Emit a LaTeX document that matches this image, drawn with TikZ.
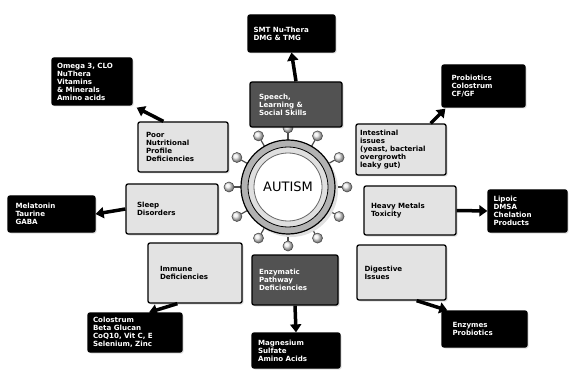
\documentclass[tikz,border=0pt]{standalone}
\usepackage{fontspec}
\setmainfont{DejaVu Sans}
\usetikzlibrary{arrows.meta,shapes,positioning,shadows,calc}

\begin{document}
\begin{tikzpicture}[x=1pt,y=-1pt,
	box/.style={rounded corners=2pt, line width=1.3pt, draw=black, align=left,
		inner sep=4pt, font=\bfseries\fontsize{7.1}{8}\selectfont,
		drop shadow={opacity=0.25, shadow xshift=1.5pt, shadow yshift=-1.5pt}},
	problem/.style={box, fill=gray!22, text=black},
	cause/.style={box, fill=black!68, text=white},
	remedy/.style={box, fill=black, text=white},
	link/.style={line width=3.5pt, -{Triangle[length=8pt,width=11pt]}},
	bubble/.style={circle, draw=black!70, line width=0.6pt, inner sep=0pt, minimum size=10pt, ball color=gray!15}]
	\useasboundingbox (0,0) rectangle (569,371);

	% Center
	\foreach \a in {0,30,...,330} {
		\draw[line width=1.2pt, black!70] ($(288,187)+(\a:-46)$) -- ($(288,187)+(\a:-54)$);
		\node[bubble] at ($(288,187)+(\a:-59)$) {};
	}
	\fill[gray!25] (291,190) circle (47);
	\draw[line width=1.2pt, fill=gray!60] (288,187) circle (47);
	\draw[line width=0.8pt, fill=gray!25] (288,187) circle (40);
	\node[circle, draw=black!60, line width=0.8pt, fill=white, minimum size=68pt,
		font=\fontsize{13}{13}\selectfont] (autism) at (288,187) {AUTISM};

	% Problems
	\node[cause, minimum width=92pt, minimum height=45pt, text width=74pt] (speech) at (296,104.5) {Speech,\\Learning \&\\Social Skills};
	\node[problem, minimum width=90pt, minimum height=50pt, text width=74pt] (poor) at (183,147) {Poor\\Nutritional\\Profile\\Deficiencies};
	\node[problem, minimum width=90pt, minimum height=51pt, text width=82pt] (intestinal) at (401,149.5) {Intestinal\\issues\\(yeast, bacterial\\overgrowth\\leaky gut)};
	\node[problem, minimum width=92pt, minimum height=50pt, text width=70pt] (sleep) at (172,209) {Sleep\\Disorders};
	\node[problem, minimum width=92pt, minimum height=49pt, text width=78pt] (heavy) at (410,210.5) {Heavy Metals\\Toxicity};
	\node[problem, minimum width=94pt, minimum height=60pt, text width=70pt] (immune) at (195,273) {Immune\\Deficiencies\\[14pt]};
	\node[cause, minimum width=86pt, minimum height=50pt, text width=72pt] (enzymatic) at (295,280) {Enzymatic\\Pathway\\Deficiencies};
	\node[problem, minimum width=89pt, minimum height=55pt, text width=74pt] (digestive) at (401.5,272.5) {Digestive\\Issues\\[14pt]};

	% Remedies
	\node[remedy, minimum width=87pt, minimum height=37pt, text width=76pt] (smt) at (291.5,33.5) {SMT Nu-Thera\\DMG \& TMG};
	\node[remedy, minimum width=80pt, minimum height=47pt, text width=70pt] (omega) at (92,81.5) {Omega 3, CLO\\NuThera\\Vitamins\\\& Minerals\\Amino acids};
	\node[remedy, minimum width=83pt, minimum height=42pt, text width=64pt] (probiotics) at (483.5,86) {Probiotics\\Colostrum\\CF/GF};
	\node[remedy, minimum width=87pt, minimum height=36pt, text width=72pt] (melatonin) at (51.5,214) {Melatonin\\Taurine\\GABA};
	\node[remedy, minimum width=79pt, minimum height=42pt, text width=68pt] (lipoic) at (527.5,211) {Lipoic\\DMSA\\Chelation\\Products};
	\node[remedy, minimum width=94pt, minimum height=39pt, text width=84pt] (colostrum) at (135,332.5) {Colostrum\\Beta Glucan\\CoQ10, Vit C, E\\Selenium, Zinc};
	\node[remedy, minimum width=88pt, minimum height=35pt, text width=76pt] (magnesium) at (296,350.5) {Magnesium\\Sulfate\\Amino Acids};
	\node[remedy, minimum width=85pt, minimum height=36pt, text width=64pt] (enzymes) at (484.5,329) {Enzymes\\Probiotics};

	% Arrows
	\draw[link] (speech.north) -- (smt.south);
	\draw[link] ([xshift=26pt]poor.north west) -- ([xshift=4pt,yshift=-2pt]omega.south east);
	\draw[link] ([xshift=-16pt]intestinal.north east) -- ([xshift=4pt,yshift=-1pt]probiotics.south west);
	\draw[link] (sleep.west) -- (melatonin.east);
	\draw[link] (heavy.east) -- (lipoic.west);
	\draw[link] ([xshift=30pt]immune.south west) -- ([xshift=14pt]colostrum.north);
	\draw[link] (enzymatic.south) -- (magnesium.north);
	\draw[link] ([xshift=-30pt]digestive.south east) -- ([xshift=6pt]enzymes.north west);
\end{tikzpicture}
\end{document}
